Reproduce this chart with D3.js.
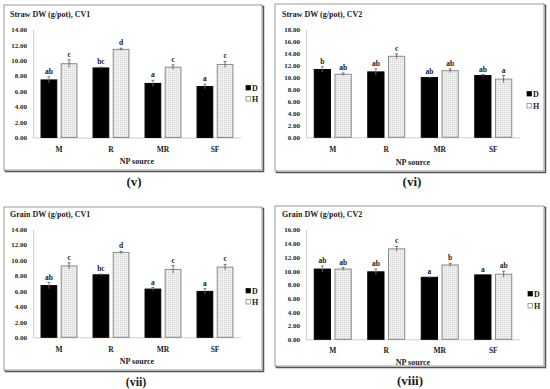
<!DOCTYPE html>
<html><head><meta charset="utf-8">
<script src="https://cdn.jsdelivr.net/npm/d3@7"></script>
<style>
html,body{margin:0;padding:0;background:#fff;}
svg{display:block;}
text{font-family:"Liberation Serif","Times New Roman",serif;font-weight:bold;fill:#1a1a1a;}
</style></head>
<body>
<svg id="chart" width="550" height="389"></svg>
<script>
// ---- data ----
const categories = ["M", "R", "MR", "SF"];
const seriesNames = ["D", "H"];
const panelTitles = ["Straw DW (g/pot), CV1", "Straw DW (g/pot), CV2", "Grain DW (g/pot), CV1", "Grain DW (g/pot), CV2"];
const panelCaptions = ["(v)", "(vi)", "(vii)", "(viii)"];
const xAxisTitle = "NP source";
const yMaxes = [14, 18, 14, 16];

const strawCV1_D = [7.45, 9.0, 7.0, 6.6];
const strawCV1_H = [9.55, 11.4, 9.1, 9.45];
const strawCV1_Derr = [0.4, 0.1, 0.4, 0.3];
const strawCV1_Herr = [0.5, 0.15, 0.3, 0.4];
const strawCV1_Dlet = ["ab", "bc", "a", "a"];
const strawCV1_Hlet = ["c", "d", "c", "c"];

const strawCV2_D = [11.3, 10.9, 9.95, 10.3];
const strawCV2_H = [10.5, 13.5, 11.1, 9.7];
const strawCV2_Derr = [0.45, 0.5, 0.05, 0.15];
const strawCV2_Herr = [0.2, 0.4, 0.3, 0.6];
const strawCV2_Dlet = ["b", "ab", "ab", "ab"];
const strawCV2_Hlet = ["ab", "c", "ab", "a"];

const grainCV1_D = [6.7, 8.1, 6.25, 5.95];
const grainCV1_H = [9.25, 11.0, 8.8, 9.1];
const grainCV1_Derr = [0.4, 0.1, 0.2, 0.35];
const grainCV1_Herr = [0.4, 0.15, 0.5, 0.35];
const grainCV1_Dlet = ["ab", "bc", "a", "a"];
const grainCV1_Hlet = ["c", "d", "c", "c"];

const grainCV2_D = [10.25, 9.85, 9.05, 9.4];
const grainCV2_H = [10.25, 13.2, 10.85, 9.5];
const grainCV2_Derr = [0.45, 0.4, 0.02, 0.05];
const grainCV2_Herr = [0.2, 0.35, 0.25, 0.45];
const grainCV2_Dlet = ["ab", "ab", "a", "a"];
const grainCV2_Hlet = ["ab", "c", "b", "ab"];

const panelData = [
  {D: strawCV1_D, H: strawCV1_H, De: strawCV1_Derr, He: strawCV1_Herr, Dl: strawCV1_Dlet, Hl: strawCV1_Hlet},
  {D: strawCV2_D, H: strawCV2_H, De: strawCV2_Derr, He: strawCV2_Herr, Dl: strawCV2_Dlet, Hl: strawCV2_Hlet},
  {D: grainCV1_D, H: grainCV1_H, De: grainCV1_Derr, He: grainCV1_Herr, Dl: grainCV1_Dlet, Hl: grainCV1_Hlet},
  {D: grainCV2_D, H: grainCV2_H, De: grainCV2_Derr, He: grainCV2_Herr, Dl: grainCV2_Dlet, Hl: grainCV2_Hlet}
];

// ---- layout (pixel geometry) ----
const layouts = [
  {fx:4, fy:5, fw:258, fh:165, x0:33, x1:241, yTop:29.3, yBase:137.5, titleX:10, titleY:17, legX:246, legY:[88,99], catY:152, npY:164, capX:134, capY:186, capSize:13},
  {fx:275, fy:4, fw:269, fh:167, x0:306, x1:520, yTop:29.3, yBase:137.3, titleX:282, titleY:17, legX:527, legY:[94,106], catY:152, npY:165, capX:412, capY:186, capSize:13},
  {fx:4, fy:207, fw:258, fh:163, x0:33, x1:241, yTop:229.3, yBase:337.3, titleX:10, titleY:217, legX:246, legY:[291,302], catY:352, npY:364, capX:136, capY:385.5, capSize:12},
  {fx:275, fy:206, fw:269, fh:160, x0:306, x1:520, yTop:229.7, yBase:339.3, titleX:282, titleY:217, legX:528, legY:[294,306], catY:353, npY:365, capX:410, capY:385, capSize:13}
];

const svg = d3.select("#chart");

// dotted pattern for H bars
const defs = svg.append("defs");
const pat = defs.append("pattern").attr("id", "dots").attr("patternUnits", "userSpaceOnUse")
  .attr("width", 2).attr("height", 2);
pat.append("rect").attr("width", 2).attr("height", 2).attr("fill", "#f0f0f0");
pat.append("rect").attr("width", 1).attr("height", 1).attr("fill", "#d2d2d2");

const fills = {D: "#000", H: "url(#dots)"};
const strokes = {D: "#000", H: "#8a8a8a"};
const ink = "#1a1a1a";

layouts.forEach((L, i) => {
  const g = svg.append("g");
  const data = panelData[i];

  // frame with shadow
  g.append("rect").attr("x", L.fx + 1.5).attr("y", L.fy + 1.5).attr("width", L.fw).attr("height", L.fh)
    .attr("fill", "none").attr("stroke", "#555").attr("stroke-width", 1.5);
  g.append("rect").attr("x", L.fx).attr("y", L.fy).attr("width", L.fw).attr("height", L.fh)
    .attr("fill", "#fff").attr("stroke", "#9a9a9a").attr("stroke-width", 1);

  const x = d3.scaleBand().domain(categories).range([L.x0, L.x1]).paddingInner(0.29).paddingOuter(0.145);
  const xs = d3.scaleBand().domain(seriesNames).range([0, x.bandwidth()]).paddingInner(0.17);
  const y = d3.scaleLinear().domain([0, yMaxes[i]]).range([L.yBase, L.yTop]);

  // y axis
  const yAxis = d3.axisLeft(y).tickValues(d3.range(0, yMaxes[i] + 0.001, 2))
    .tickFormat(d3.format(".2f")).tickSize(0).tickPadding(6);
  const ya = g.append("g").attr("transform", `translate(${L.x0},0)`).call(yAxis);
  ya.select(".domain").attr("stroke", "#d0d0d0");
  ya.selectAll("text").attr("font-size", 7).attr("font-family", "Liberation Serif").attr("fill", ink);

  // x axis
  const xAxis = d3.axisBottom(x).tickSize(0).tickPadding(0);
  const xa = g.append("g").attr("transform", `translate(0,${L.yBase})`).call(xAxis);
  xa.select(".domain").attr("stroke", "#cfcfcf").attr("d", `M${L.x0},0.5H${L.x1}`);
  xa.selectAll("text").attr("font-size", 7.5).attr("font-family", "Liberation Serif").attr("fill", ink)
    .attr("y", L.catY - L.yBase).attr("dy", 0);

  // bars
  const rows = [];
  categories.forEach((c, k) => {
    rows.push({c, s: "D", v: data.D[k], e: data.De[k], l: data.Dl[k]});
    rows.push({c, s: "H", v: data.H[k], e: data.He[k], l: data.Hl[k]});
  });
  g.selectAll("rect.bar").data(rows).enter().append("rect").attr("class", "bar")
    .attr("x", d => x(d.c) + xs(d.s) + 0.5)
    .attr("width", xs.bandwidth() - 1)
    .attr("y", d => y(d.v))
    .attr("height", d => y(0) - y(d.v))
    .attr("fill", d => fills[d.s])
    .attr("stroke", d => strokes[d.s]).attr("stroke-width", 1);

  // error bars
  const eb = g.selectAll("g.err").data(rows).enter().append("g").attr("class", "err");
  eb.append("line")
    .attr("x1", d => x(d.c) + xs(d.s) + xs.bandwidth() / 2)
    .attr("x2", d => x(d.c) + xs(d.s) + xs.bandwidth() / 2)
    .attr("y1", d => y(d.v + d.e)).attr("y2", d => y(d.v - d.e))
    .attr("stroke", d => d.s === "D" ? "#777" : "#555").attr("stroke-width", 0.8);
  eb.append("line")
    .attr("x1", d => x(d.c) + xs(d.s) + xs.bandwidth() / 2 - 1.5)
    .attr("x2", d => x(d.c) + xs(d.s) + xs.bandwidth() / 2 + 1.5)
    .attr("y1", d => y(d.v + d.e)).attr("y2", d => y(d.v + d.e))
    .attr("stroke", "#555").attr("stroke-width", 0.8);

  // letters
  g.selectAll("text.let").data(rows).enter().append("text").attr("class", "let")
    .attr("x", d => x(d.c) + xs(d.s) + xs.bandwidth() / 2)
    .attr("y", d => y(d.v + d.e) - 3)
    .attr("text-anchor", "middle").attr("font-size", 7.5).attr("fill", ink)
    .text(d => d.l);

  // title
  g.append("text").attr("x", L.titleX).attr("y", L.titleY).attr("font-size", 8).attr("fill", ink).text(panelTitles[i]);
  // x axis title
  g.append("text").attr("x", (L.x0 + L.x1) / 2).attr("y", L.npY).attr("text-anchor", "middle")
    .attr("font-size", 8).attr("fill", ink).text(xAxisTitle);

  // legend
  seriesNames.forEach((s, k) => {
    g.append("rect").attr("x", L.legX).attr("y", L.legY[k] - 2.5).attr("width", 4.5).attr("height", 4.5)
      .attr("fill", s === "D" ? "#000" : "#fff").attr("stroke", s === "D" ? "#000" : "#777").attr("stroke-width", 0.7);
    g.append("text").attr("x", L.legX + 6).attr("y", L.legY[k] + 2.8).attr("font-size", 8).attr("fill", ink).text(s);
  });

  // caption
  svg.append("text").attr("x", L.capX).attr("y", L.capY).attr("text-anchor", "middle")
    .attr("font-size", L.capSize).attr("fill", ink).text(panelCaptions[i]);
});
</script>
</body></html>
